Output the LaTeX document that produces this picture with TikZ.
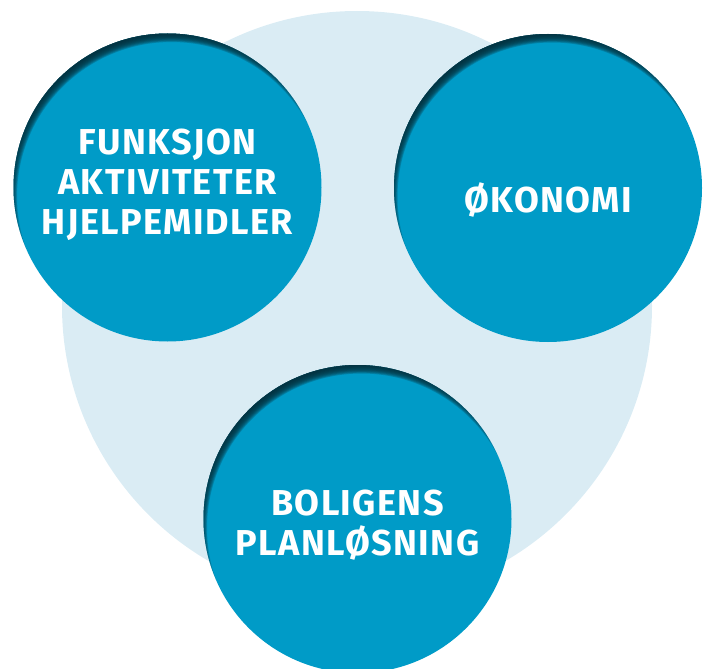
\documentclass[tikz,border=0pt]{standalone}
\usepackage{fontspec}
\setmainfont{Fira Sans}
\usepackage{tikz}
\usetikzlibrary{positioning, calc}

\definecolor{paleblue}{HTML}{DAECF4}
\definecolor{ballblue}{HTML}{009BC7}
\definecolor{balldark}{HTML}{05323F}

\tikzset{
    ball/.style = {
        circle,
        minimum size = 308pt,
        inner sep = 0pt,
        fill = ballblue
    },
    balltext/.style = {
        text = white,
        align = center,
        font = \fontsize{36}{40}\selectfont\bfseries\addfontfeatures{LetterSpace=4}
    }
}

% inner shadow along the upper left rim of a ball
\newcommand{\ballshadow}[1]{
    \begin{scope}
        \clip (#1.center) circle (154pt);
        \foreach \k in {0,...,10} {
            \fill[balldark, opacity=0.25, even odd rule]
                ($(#1.center)+(4pt,-9pt)$) circle (180pt)
                ($(#1.center)+(4pt,-9pt)$) circle ({(154.5+0.85*\k)*1pt});
        }
    \end{scope}
}

\begin{document}
\begin{tikzpicture}[x=1pt, y=1pt]

\useasboundingbox (0,0) rectangle (710,-669);
\clip (0,0) rectangle (710,-669);

% background disc
\node [circle, fill=paleblue, minimum size=590pt, inner sep=0pt] (bg) at (357,-306) {};

% the three topics
\node [ball] (funksjon) at (167.5,-187.5) {};
\node [ball] (okonomi) at (548,-188) {};
\node [ball] (bolig) at (357.5,-519) {};

\ballshadow{funksjon}
\ballshadow{okonomi}
\ballshadow{bolig}

\node [balltext] (funksjontext) at ([yshift=3pt]funksjon.center) {FUNKSJON\\AKTIVITETER\\HJELPEMIDLER};
\node [balltext] (okonomitext) at ([yshift=-12pt]okonomi.center) {ØKONOMI};
\node [balltext] (boligtext) at ([yshift=-6pt]bolig.center) {BOLIGENS\\PLANLØSNING};

\end{tikzpicture}
\end{document}
